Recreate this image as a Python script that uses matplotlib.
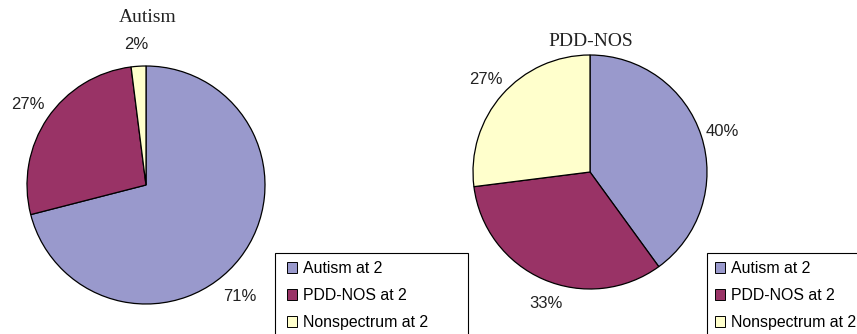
import matplotlib
matplotlib.use("Agg")
import matplotlib.pyplot as plt
from matplotlib.patches import Patch, Rectangle

# Diagnosis at follow-up, split by diagnosis at age 2
categories = ["Autism at 2", "PDD-NOS at 2", "Nonspectrum at 2"]
autism_pct = [71, 27, 2]
pddnos_pct = [40, 33, 27]
colors = ["#9999CC", "#993366", "#FFFFCC"]

# label anchor points in pie units (radius = 1)
autism_label_pos = [(0.79, -0.94), (-0.99, 0.68), (-0.08, 1.18)]
pddnos_label_pos = [(1.13, 0.35), (-0.38, -1.12), (-0.89, 0.79)]

W, H = 857, 334
fig = plt.figure(figsize=(W / 100, H / 100), dpi=100)
plt.rcParams["font.family"] = ["Liberation Sans", "DejaVu Sans"]


def px_axes(cx, cy, r):
    # axes whose data box (-1..1) covers the circle centred at (cx, cy) px
    return fig.add_axes([(cx - r) / W, (H - cy - r) / H, 2 * r / W, 2 * r / H])


def draw_pie(ax, values, label_pos):
    ax.pie(
        values,
        colors=colors,
        startangle=90,
        counterclock=False,
        wedgeprops=dict(edgecolor="black", linewidth=0.9),
    )
    for v, (x, y) in zip(values, label_pos):
        ax.text(x, y, f"{v}%", ha="center", va="center", fontsize=12, color="#222222")
    ax.set_xlim(-1, 1)
    ax.set_ylim(-1, 1)
    ax.set_aspect("equal")
    ax.axis("off")


ax1 = px_axes(146, 185, 119)
draw_pie(ax1, autism_pct, autism_label_pos)
ax2 = px_axes(590, 172, 117)
draw_pie(ax2, pddnos_pct, pddnos_label_pos)

fig.text(148 / W, 1 - 18 / H, "Autism", ha="center", va="center",
         fontsize=14, family="Liberation Serif", color="#222222")
fig.text(591 / W, 1 - 41 / H, "PDD-NOS", ha="center", va="center",
         fontsize=14, family="Liberation Serif", color="#222222")

# legend boxes: plain rectangles, the right one runs off the page edge
for x0, x1 in ((275, 468), (707, 870)):
    fig.patches.append(Rectangle(
        (x0 / W, -0.05), (x1 - x0) / W, 0.05 + (H - 253) / H,
        transform=fig.transFigure, facecolor="white",
        edgecolor="black", linewidth=0.8, zorder=0,
    ))

handles = [Patch(facecolor=c, edgecolor="black", linewidth=0.7) for c in colors]
for x0 in (284, 712):
    fig.legend(
        handles, categories,
        loc="upper left",
        bbox_to_anchor=(x0 / W, 1 - 258 / H),
        fontsize=11.4,
        frameon=False,
        handlelength=0.65,
        handleheight=0.65,
        handletextpad=0.35,
        labelspacing=0.75,
        borderpad=0.2,
        borderaxespad=0,
    )

fig.savefig("out.png", dpi=100)
